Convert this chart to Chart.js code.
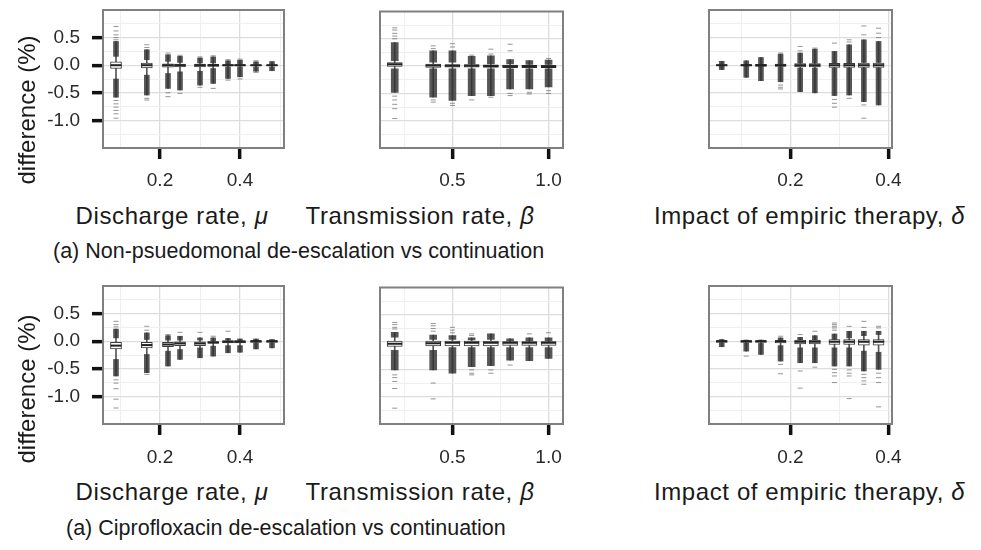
<!DOCTYPE html>
<html>
<head>
<meta charset="utf-8">
<script src="https://cdn.jsdelivr.net/npm/chart.js@4.4.1/dist/chart.umd.min.js"></script>
<style>
  body { margin: 0; width: 981px; height: 550px; position: relative; overflow: hidden; background: #fff;
         font-family: "Liberation Sans", Arial, sans-serif; color: #1a1a1a; }
  canvas { position: absolute; }
  .t { position: absolute; white-space: nowrap; text-align: center; font-size: 24px; line-height: 1; letter-spacing: 0.6px; }
  .cap { position: absolute; white-space: nowrap; font-size: 21.5px; line-height: 1; }
  .yt { position: absolute; width: 200px; text-align: center; font-size: 24px; line-height: 1; transform: rotate(-90deg); }
</style>
</head>
<body>
<canvas id="a1"></canvas><canvas id="a2"></canvas><canvas id="a3"></canvas>
<canvas id="b1"></canvas><canvas id="b2"></canvas><canvas id="b3"></canvas>

<div class="yt" style="left:-73px; top:98px;">difference (%)</div>
<div class="t" style="left:72px; top:204px; width:200px;">Discharge rate, <i>μ</i></div>
<div class="t" style="left:295px; top:204px; width:250px;">Transmission rate, <i>β</i></div>
<div class="t" style="left:654px; top:204px; width:310px;">Impact of empiric therapy, <i>δ</i></div>
<div class="cap" style="left:53px; top:241px;">(a) Non-psuedomonal de-escalation vs continuation</div>

<div class="yt" style="left:-73px; top:377px;">difference (%)</div>
<div class="t" style="left:72px; top:480px; width:200px;">Discharge rate, <i>μ</i></div>
<div class="t" style="left:295px; top:480px; width:250px;">Transmission rate, <i>β</i></div>
<div class="t" style="left:654px; top:480px; width:310px;">Impact of empiric therapy, <i>δ</i></div>
<div class="cap" style="left:66px; top:518px;">(a) Ciprofloxacin de-escalation vs continuation</div>

<script>
// y axis (difference, %) shared by all panels
const yMin = -1.5, yMax = 1.0;
const yTicks = [-1.25, -1.0, -0.75, -0.5, -0.25, 0, 0.25, 0.5, 0.75];
const yMajor = [-1.0, -0.5, 0, 0.5];
const yLabels = ['-1.0', '-0.5', '0.0', '0.5'];

// x axes
const muTicks = [0.1, 0.2, 0.3, 0.4, 0.5];
const muMajor = [0.2, 0.4];
const muLabels = ['0.2', '0.4'];
const betaTicks = [0.25, 0.5, 0.75, 1.0];
const betaMajor = [0.5, 1.0];
const betaLabels = ['0.5', '1.0'];
const deltaTicks = [0.1, 0.2, 0.3, 0.4];
const deltaMajor = [0.2, 0.4];
const deltaLabels = ['0.2', '0.4'];

// parameter values (box positions)
const muX = [0.09, 0.167, 0.22, 0.25, 0.30, 0.333, 0.37, 0.40, 0.44, 0.48];
const betaX = [0.2, 0.4, 0.5, 0.6, 0.7, 0.8, 0.9, 1.0];
const deltaX = [0.06, 0.11, 0.14, 0.18, 0.22, 0.25, 0.29, 0.32, 0.35, 0.38];

// box = [q1, median, q3]; up/low = dense outlier runs [from, to]; out = sparse outliers

// (a) Non-psuedomonal de-escalation vs continuation
const npMuBox = [[-0.06, 0, 0.06], [-0.05, 0, 0.04], [-0.035, 0, 0.025], [-0.03, 0, 0.02], [-0.03, 0, 0.02],
                 [-0.02, 0, 0.015], [-0.015, 0, 0.01], [-0.015, 0, 0.01], [-0.01, 0, 0.008], [-0.01, 0, 0.008]];
const npMuUp = [[0.16, 0.43], [0.10, 0.28], [0.07, 0.19], [0.05, 0.16], [0.04, 0.13],
                [0.04, 0.15], [0.02, 0.08], [0.02, 0.09], [0.02, 0.06], [0.02, 0.06]];
const npMuLow = [[-0.25, -0.58], [-0.18, -0.54], [-0.15, -0.42], [-0.12, -0.45], [-0.11, -0.36],
                 [-0.06, -0.33], [-0.03, -0.24], [-0.03, -0.21], [-0.03, -0.11], [-0.03, -0.10]];
const npMuOut = [[0.70, 0.62, 0.55, 0.50, 0.46, -0.64, -0.70, -0.76, -0.82, -0.88, -0.96],
                 [0.37, 0.32, -0.60, -0.63], [0.22, -0.50, -0.57], [0.18, -0.51], [0.15, -0.40],
                 [0.17, -0.42], [0.10, -0.27], [0.11, -0.25], [0.08, -0.13], [0.07]];

const npBetaBox = [[-0.005, 0.035, 0.065], [-0.025, 0.01, 0.035], [-0.02, 0.005, 0.03], [-0.02, 0.005, 0.03],
                   [-0.025, 0, 0.025], [-0.03, -0.005, 0.02], [-0.03, -0.005, 0.015], [-0.03, -0.01, 0.015]];
const npBetaUp = [[0.10, 0.43], [0.07, 0.28], [0.07, 0.28], [0.04, 0.18], [0.04, 0.19], [0.04, 0.12], [0.03, 0.10], [0.03, 0.11]];
const npBetaLow = [[-0.05, -0.48], [-0.05, -0.57], [-0.05, -0.63], [-0.05, -0.54], [-0.05, -0.54], [-0.05, -0.42], [-0.05, -0.42], [-0.05, -0.38]];
const npBetaOut = [[0.70, 0.66, 0.60, 0.55, 0.50, -0.55, -0.62, -0.70, -0.78, -0.96],
                   [0.37, 0.32, -0.62, -0.66], [0.41, 0.35, -0.68, -0.72], [0.20, -0.62], [0.31, 0.22, -0.57],
                   [0.40, 0.28, -0.50, -0.54], [-0.48, -0.51], [0.14, -0.45, -0.50]];

const npDeltaBox = [[-0.01, 0, 0.01], [-0.015, 0, 0.01], [-0.02, 0, 0.015], [-0.02, 0, 0.02], [-0.03, 0, 0.03],
                    [-0.03, 0, 0.03], [-0.04, 0, 0.035], [-0.04, 0, 0.035], [-0.04, 0, 0.04], [-0.04, 0, 0.04]];
const npDeltaUp = [[0.01, 0.07], [0.01, 0.08], [0.02, 0.14], [0.02, 0.20], [0.04, 0.22],
                   [0.04, 0.29], [0.04, 0.25], [0.04, 0.37], [0.05, 0.46], [0.05, 0.43]];
const npDeltaLow = [[-0.01, -0.08], [-0.02, -0.22], [-0.02, -0.28], [-0.03, -0.30], [-0.05, -0.48],
                    [-0.05, -0.50], [-0.05, -0.55], [-0.05, -0.54], [-0.05, -0.66], [-0.05, -0.72]];
const npDeltaOut = [[], [], [], [0.22, -0.36, -0.40, -0.43], [0.34, 0.26], [0.31],
                    [0.40, -0.62, -0.69, -0.76], [0.46, 0.42, -0.60], [0.71, 0.55, -0.72, -0.96], [0.67, 0.58, 0.50]];

// (a) Ciprofloxacin de-escalation vs continuation
const cipMuBox = [[-0.14, -0.08, -0.02], [-0.12, -0.07, -0.02], [-0.10, -0.06, -0.02], [-0.08, -0.04, -0.01], [-0.08, -0.04, -0.01],
                  [-0.04, -0.02, 0], [-0.03, -0.01, 0.01], [-0.03, -0.01, 0.01], [-0.02, 0, 0.01], [-0.02, 0, 0.01]];
const cipMuUp = [[0.06, 0.22], [0.03, 0.15], [0.02, 0.10], [0.02, 0.09], [0.02, 0.06],
                 [0.01, 0.06], [0.02, 0.05], [0.01, 0.04], [0.01, 0.04], [0.01, 0.03]];
const cipMuLow = [[-0.33, -0.63], [-0.24, -0.57], [-0.18, -0.45], [-0.15, -0.33], [-0.12, -0.30],
                  [-0.09, -0.27], [-0.08, -0.21], [-0.08, -0.20], [-0.03, -0.14], [-0.03, -0.12]];
const cipMuOut = [[0.36, 0.30, 0.26, -0.70, -0.76, -0.86, -1.05, -1.21], [0.27, 0.20, -0.60], [0.12], [0.16], [0.16],
                  [0.09], [0.18], [], [], []];

const cipBetaBox = [[-0.08, -0.03, 0.02], [-0.07, -0.02, 0.02], [-0.07, -0.01, 0.02], [-0.07, -0.01, 0.02],
                    [-0.07, -0.01, 0.02], [-0.06, -0.01, 0.01], [-0.06, -0.01, 0.01], [-0.06, -0.01, 0.01]];
const cipBetaUp = [[0.09, 0.18], [0.05, 0.13], [0.05, 0.12], [0.04, 0.08], [0.05, 0.15], [0.02, 0.06], [0.02, 0.08], [0.02, 0.08]];
const cipBetaLow = [[-0.15, -0.51], [-0.15, -0.51], [-0.10, -0.57], [-0.10, -0.45], [-0.10, -0.43], [-0.10, -0.33], [-0.10, -0.34], [-0.10, -0.30]];
const cipBetaOut = [[0.36, 0.32, 0.27, 0.24, -0.60, -0.65, -0.72, -0.85, -1.21], [0.34, 0.30, 0.25, 0.20, -0.75, -1.04],
                    [0.27, 0.22, 0.17], [0.15, 0.12, -0.51, -0.57, -0.60], [-0.51, -0.57], [-0.42], [0.15], [0.17]];

const cipDeltaBox = [[-0.02, 0, 0.01], [-0.02, 0, 0.01], [-0.02, 0, 0.01], [-0.03, 0, 0.01], [-0.05, -0.01, 0.02],
                     [-0.05, -0.01, 0.02], [-0.06, -0.01, 0.03], [-0.06, -0.01, 0.03], [-0.07, -0.01, 0.03], [-0.07, -0.01, 0.03]];
const cipDeltaUp = [[0.01, 0.03], [0.01, 0.02], [0.01, 0.02], [0.01, 0.06], [0.02, 0.07],
                    [0.02, 0.10], [0.03, 0.13], [0.06, 0.18], [0.10, 0.18], [0.12, 0.18]];
const cipDeltaLow = [[-0.03, -0.10], [-0.03, -0.18], [-0.04, -0.24], [-0.08, -0.36], [-0.12, -0.39],
                     [-0.12, -0.39], [-0.12, -0.45], [-0.12, -0.45], [-0.18, -0.54], [-0.20, -0.51]];
const cipDeltaOut = [[], [-0.27], [], [0.09, -0.42, -0.59], [0.12, -0.54, -0.85], [0.18, -0.47],
                     [0.33, 0.30, 0.27, 0.24, 0.20, -0.51, -0.57, -0.63, -0.75], [0.27, -0.52, -0.58, -0.63, -1.04],
                     [0.36, 0.25, -0.60, -0.66, -0.72, -0.78], [0.27, 0.24, -0.58, -0.66, -0.75, -1.19]];

// ---- layout of the six panels
const rows = [
  { plotT: 10, plotB: 148, labelPad: 10 },
  { plotT: 286, plotB: 424, labelPad: 11 }
];
const cols = [
  { plotL: 103, plotR: 284, padL: 103, min: 0.0575, max: 0.51, ticks: muTicks, major: muMajor, labels: muLabels, boxPx: 11 },
  { plotL: 380, plotR: 563, padL: 12, min: 0.1234, max: 1.075, ticks: betaTicks, major: betaMajor, labels: betaLabels, boxPx: 15 },
  { plotL: 709, plotR: 892, padL: 12, min: 0.034, max: 0.4074, ticks: deltaTicks, major: deltaMajor, labels: deltaLabels, boxPx: 11 }
];

Chart.defaults.font.family = '"Liberation Sans", Arial, sans-serif';

const frame = {
  id: 'frame',
  afterDraw(chart) {
    const { ctx, chartArea: a } = chart;
    ctx.save();
    ctx.strokeStyle = '#808080';
    ctx.lineWidth = 2;
    ctx.strokeRect(a.left, a.top, a.right - a.left, a.bottom - a.top);
    ctx.restore();
  }
};

function isIn(list, v) { return list.indexOf(v) >= 0; }

function makePanel(id, r, c, xs, box, up, low, out) {
  const row = rows[r], col = cols[c];
  const padT = 8, padR = 20, axisH = 50;
  const w = col.plotR - col.plotL + col.padL + padR;
  const h = row.plotB - row.plotT + padT + axisH;
  const cv = document.getElementById(id);
  cv.width = w; cv.height = h;
  cv.style.width = w + 'px'; cv.style.height = h + 'px';
  cv.style.left = (col.plotL - col.padL) + 'px';
  cv.style.top = (row.plotT - padT) + 'px';

  const showY = c === 0;
  const bandPx = Math.round(col.boxPx * 0.45);
  const pts = [];
  out.forEach((vals, i) => vals.forEach(v => pts.push({ x: xs[i], y: v })));

  new Chart(cv, {
    type: 'bar',
    data: {
      datasets: [
        { type: 'scatter', order: 0, data: xs.map((x, i) => ({ x: x, y: box[i][1] })),
          pointStyle: 'line', pointRadius: col.boxPx / 2, borderWidth: 2, borderColor: '#222', backgroundColor: '#222' },
        { order: 1, data: xs.map((x, i) => ({ x: x, y: [box[i][0], box[i][2]] })), grouped: false,
          barThickness: col.boxPx, backgroundColor: '#fbfbfb', borderColor: '#3a3a3a', borderWidth: 1, borderSkipped: false },
        { order: 2, data: xs.map((x, i) => ({ x: x, y: up[i] })), grouped: false,
          barThickness: bandPx, backgroundColor: 'rgba(50,50,50,0.82)' },
        { order: 2, data: xs.map((x, i) => ({ x: x, y: low[i] })), grouped: false,
          barThickness: bandPx, backgroundColor: 'rgba(50,50,50,0.82)' },
        { type: 'scatter', order: 3, data: pts,
          pointStyle: 'line', pointRadius: 2.5, borderWidth: 1, borderColor: 'rgba(60,60,60,0.55)', backgroundColor: 'rgba(60,60,60,0.55)' },
        { order: 4, data: xs.map((x, i) => ({ x: x, y: [low[i][1], up[i][1]] })), grouped: false,
          barThickness: 1, backgroundColor: '#555' }
      ]
    },
    options: {
      responsive: false,
      animation: false,
      events: [],
      layout: { padding: { top: padT, right: padR, left: 0, bottom: 0 } },
      plugins: { legend: { display: false }, tooltip: { enabled: false } },
      scales: {
        x: {
          type: 'linear', min: col.min, max: col.max, offset: false,
          afterBuildTicks: s => { s.ticks = col.ticks.map(v => ({ value: v })); },
          afterFit: s => { s.height = axisH; s.paddingLeft = 0; s.paddingRight = 0; },
          border: { display: false },
          grid: {
            offset: false,
            color: ctx => ctx.tick && isIn(col.major, ctx.tick.value) ? '#dddddd' : '#efefef',
            lineWidth: ctx => ctx.tick && isIn(col.major, ctx.tick.value) ? 1.3 : 1,
            tickColor: ctx => ctx.tick && isIn(col.major, ctx.tick.value) ? '#111' : 'rgba(0,0,0,0)',
            tickWidth: 3.5, tickLength: 11
          },
          ticks: {
            autoSkip: false, maxRotation: 0, padding: row.labelPad, color: '#2a2a2a', font: { size: 19 },
            callback: v => { const k = col.major.indexOf(v); return k < 0 ? '' : col.labels[k]; }
          }
        },
        y: {
          min: yMin, max: yMax,
          afterBuildTicks: s => { s.ticks = yTicks.map(v => ({ value: v })); },
          afterFit: s => { s.width = col.padL; s.paddingTop = 0; s.paddingBottom = 0; },
          border: { display: false },
          grid: {
            drawTicks: showY,
            color: ctx => ctx.tick && isIn(yMajor, ctx.tick.value) ? '#dddddd' : '#efefef',
            lineWidth: ctx => ctx.tick && isIn(yMajor, ctx.tick.value) ? 1.3 : 1,
            tickColor: ctx => ctx.tick && isIn(yMajor, ctx.tick.value) ? '#111' : 'rgba(0,0,0,0)',
            tickWidth: 3.5, tickLength: 11
          },
          ticks: {
            display: showY, autoSkip: false, padding: 12, color: '#2a2a2a', font: { size: 19 },
            callback: v => { const k = yMajor.indexOf(v); return k < 0 ? '' : yLabels[k]; }
          }
        }
      }
    },
    plugins: [frame]
  });
}

makePanel('a1', 0, 0, muX, npMuBox, npMuUp, npMuLow, npMuOut);
makePanel('a2', 0, 1, betaX, npBetaBox, npBetaUp, npBetaLow, npBetaOut);
makePanel('a3', 0, 2, deltaX, npDeltaBox, npDeltaUp, npDeltaLow, npDeltaOut);
makePanel('b1', 1, 0, muX, cipMuBox, cipMuUp, cipMuLow, cipMuOut);
makePanel('b2', 1, 1, betaX, cipBetaBox, cipBetaUp, cipBetaLow, cipBetaOut);
makePanel('b3', 1, 2, deltaX, cipDeltaBox, cipDeltaUp, cipDeltaLow, cipDeltaOut);
</script>
</body>
</html>
